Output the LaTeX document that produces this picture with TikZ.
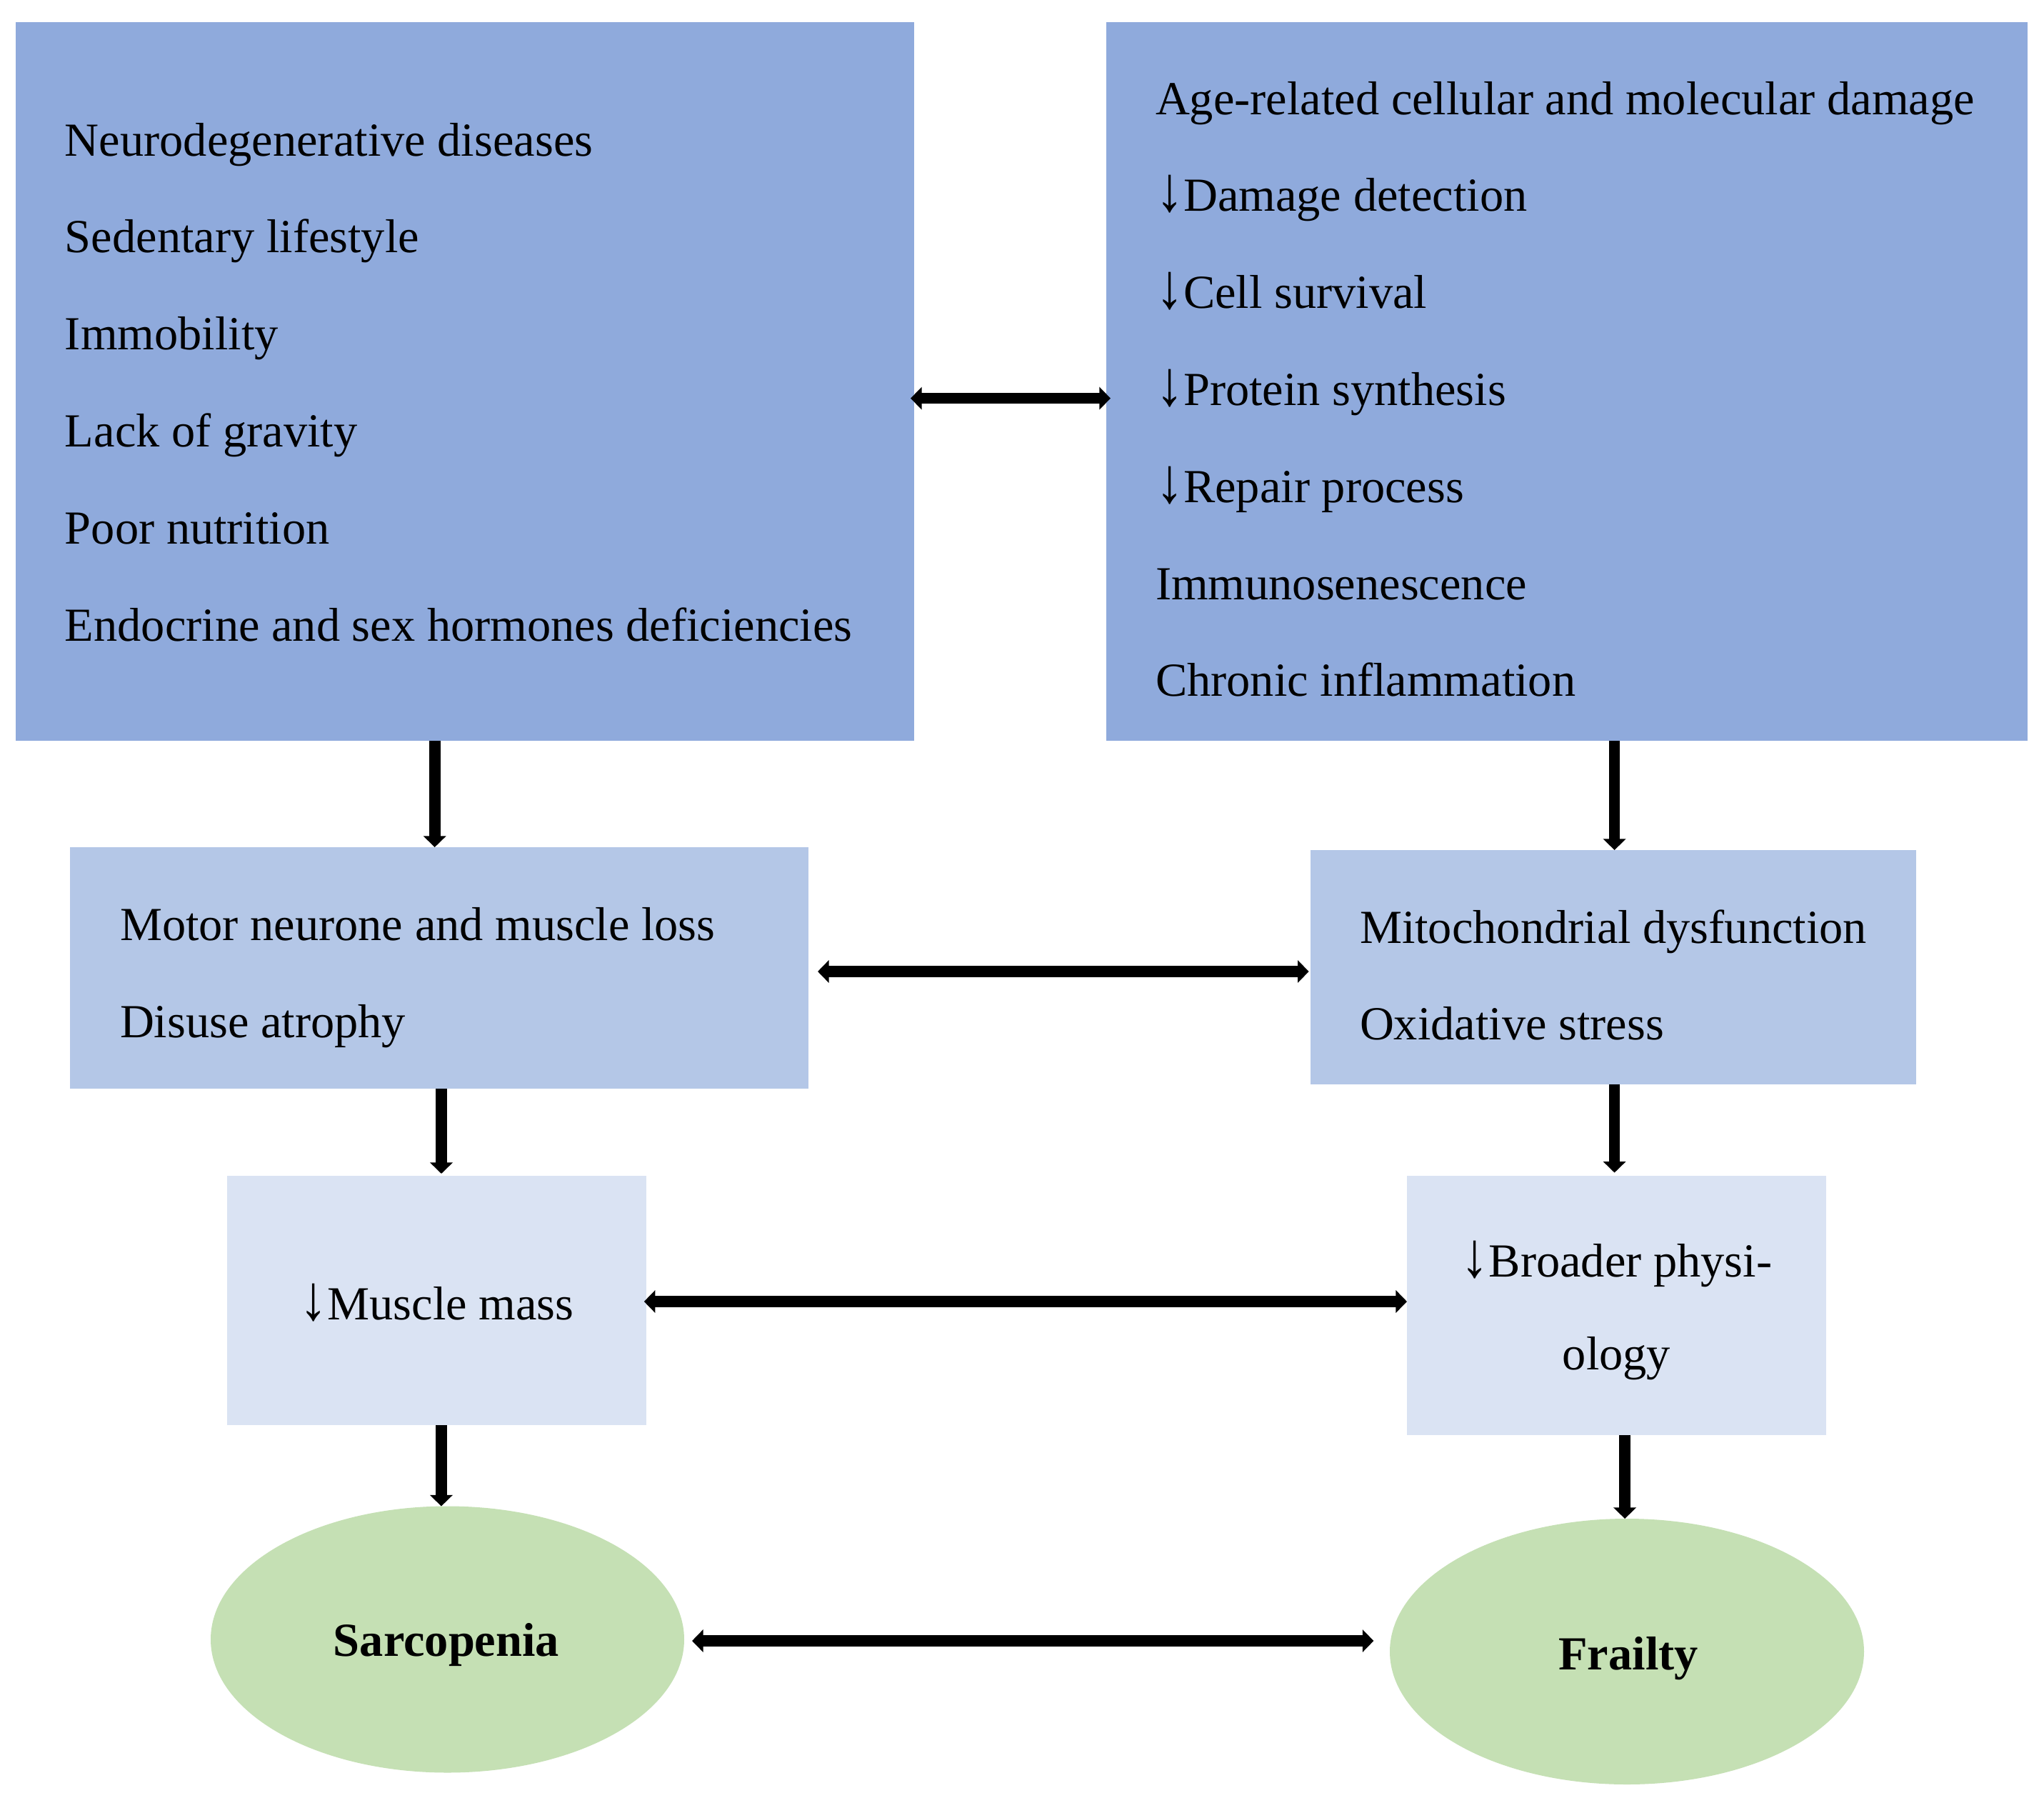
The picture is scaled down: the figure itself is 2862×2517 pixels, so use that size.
\documentclass[tikz,border=0pt]{standalone}
\usepackage{graphicx}
\usepackage{fontspec}
\setmainfont{Liberation Serif}
\usetikzlibrary{arrows.meta,shapes.geometric}
\definecolor{dkblue}{HTML}{8FAADC}
\definecolor{mdblue}{HTML}{B4C7E7}
\definecolor{ltblue}{HTML}{DAE3F3}
\definecolor{ltgreen}{HTML}{C5E0B4}
\newcommand{\dnarr}{\scalebox{1.18}[1.35]{↓}}
\begin{document}
\begin{tikzpicture}[x=0.25pt,y=-0.25pt,
  boxnode/.style={inner sep=0pt, outer sep=0pt, anchor=north west, draw=none, rectangle},
  ellnode/.style={ellipse, inner sep=0pt, outer sep=0pt, fill=ltgreen, draw=none},
  txt/.style={anchor=base west, inner sep=0pt, outer sep=0pt, font=\fontsize{16.6pt}{20pt}\selectfont},
  ctxt/.style={anchor=base, inner sep=0pt, outer sep=0pt, font=\fontsize{16.6pt}{20pt}\selectfont},
  btxt/.style={anchor=base, inner sep=0pt, outer sep=0pt, font=\fontsize{16.6pt}{20pt}\selectfont\bfseries},
  arr/.style={line width=3.9pt, -{Triangle[length=3.9pt,width=7.75pt]}},
  dbl/.style={line width=3.9pt, {Triangle[length=3.9pt,width=7.75pt]}-{Triangle[length=3.9pt,width=7.75pt]}}
]
\useasboundingbox[fill=white] (0,0) rectangle (2862,2517);

% boxes
\node[boxnode, fill=dkblue, minimum width=314.5pt, minimum height=251.5pt] (b1) at (22,31) {};
\node[boxnode, fill=dkblue, minimum width=322.5pt, minimum height=251.5pt] (b2) at (1549,31) {};
\node[boxnode, fill=mdblue, minimum width=258.5pt, minimum height=84.5pt] (b3) at (98,1186) {};
\node[boxnode, fill=mdblue, minimum width=212pt, minimum height=82pt] (b4) at (1835,1190) {};
\node[boxnode, fill=ltblue, minimum width=146.75pt, minimum height=87.25pt] (b5) at (318,1646) {};
\node[boxnode, fill=ltblue, minimum width=146.75pt, minimum height=90.75pt] (b6) at (1970,1646) {};
\node[ellnode, minimum width=165.75pt, minimum height=93.25pt] (e1) at (626.5,2295) {};
\node[ellnode, minimum width=166pt, minimum height=93pt] (e2) at (2278,2312) {};

% texts box 1
\node[txt] (t11) at (91,218) {Neurodegenerative diseases};
\node[txt] (t12) at (91,353.8) {Sedentary lifestyle};
\node[txt] (t13) at (91,489.6) {Immobility};
\node[txt] (t14) at (91,625.4) {Lack of gravity};
\node[txt] (t15) at (91,761.2) {Poor nutrition};
\node[txt] (t16) at (91,897) {Endocrine and sex hormones deficiencies};

% texts box 2
\node[txt] (t21) at (1618,160) {Age-related cellular and molecular damage};
\node[txt] (t22) at (1618,295.8) {\dnarr Damage detection};
\node[txt] (t23) at (1618,431.6) {\dnarr Cell survival};
\node[txt] (t24) at (1618,567.4) {\dnarr Protein synthesis};
\node[txt] (t25) at (1618,703.2) {\dnarr Repair process};
\node[txt] (t26) at (1618,839) {Immunosenescence};
\node[txt] (t27) at (1618,974.8) {Chronic inflammation};

% texts box 3, 4
\node[txt] (t31) at (168,1316) {Motor neurone and muscle loss};
\node[txt] (t32) at (168,1452) {Disuse atrophy};
\node[txt] (t41) at (1904,1320.6) {Mitochondrial dysfunction};
\node[txt] (t42) at (1904,1455) {Oxidative stress};

% texts box 5, 6
\node[ctxt] (t51) at (611.5,1847.7) {\dnarr Muscle mass};
\node[ctxt] (t61) at (2263.5,1787.5) {\dnarr Broader physi-};
\node[ctxt] (t62) at (2263.5,1917.5) {ology};

% ellipse texts
\node[btxt] (te1) at (625,2318.6) {Sarcopenia};
\node[btxt] (te2) at (2280,2337) {Frailty};

% horizontal double arrows
\draw[dbl] ([xshift=-1.25pt,yshift=-5.9pt]b1.east) -- ([xshift=1.5pt,yshift=-5.9pt]b2.west);
\draw[dbl] ([xshift=3.25pt,yshift=-1.25pt]b3.east) -- ([xshift=-0.6pt,yshift=-1.5pt]b4.west);
\draw[dbl] ([xshift=-0.8pt,yshift=-0.375pt]b5.east) -- ([xshift=0pt,yshift=1.375pt]b6.west);
\draw[dbl] ([xshift=2.75pt,yshift=-0.5pt]e1.east) -- ([xshift=-5.65pt,yshift=3.75pt]e2.west);

% vertical arrows
\draw[arr] ([xshift=-10.575pt]b1.south) -- ([xshift=-10.575pt]b1.south |- b3.north);
\draw[arr] ([xshift=16.65pt]b2.south) -- ([xshift=16.65pt]b2.south |- b4.north);
\draw[arr] ([xshift=0.75pt]b3.south) -- ([xshift=0.75pt,yshift=0.75pt]b3.south |- b5.north);
\draw[arr] ([xshift=0.4pt]b4.south) -- ([xshift=0.4pt,yshift=1.1pt]b4.south |- b6.north);
\draw[arr] ([xshift=1.6pt]b5.south) -- ([xshift=1.6pt]b5.south |- e1.north);
\draw[arr] ([xshift=2.9pt]b6.south) -- ([xshift=2.9pt]b6.south |- e2.north);
\end{tikzpicture}
\end{document}
